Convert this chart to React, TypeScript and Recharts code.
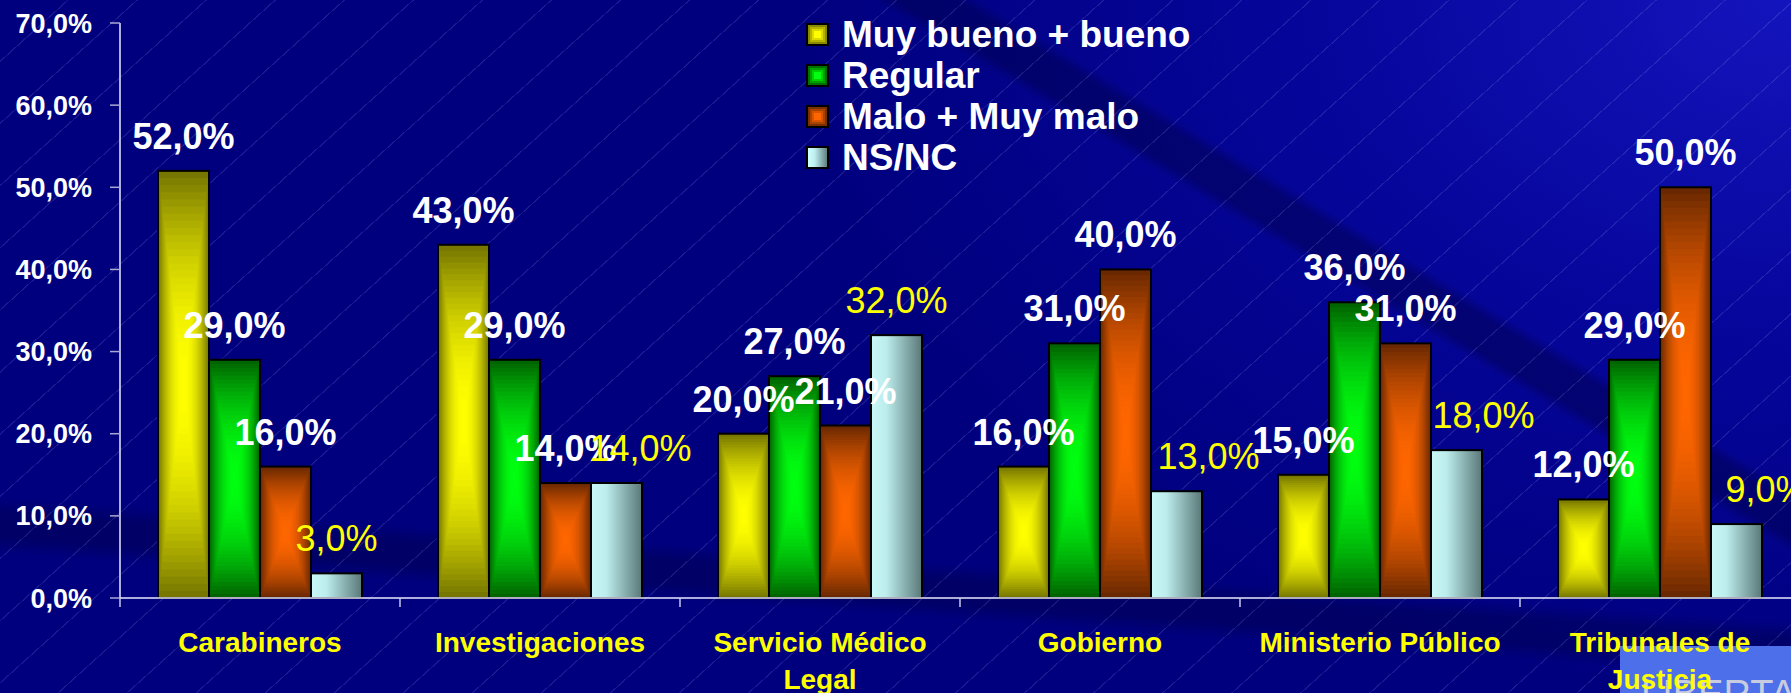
import React from 'react';
import { BarChart, Bar, XAxis, YAxis, Legend, LabelList } from 'recharts';

const categories = [
  'Carabineros',
  'Investigaciones',
  'Servicio Médico Legal',
  'Gobierno',
  'Ministerio Público',
  'Tribunales de Justicia',
];
const muyBuenoBueno = [52, 43, 20, 16, 15, 12];
const regular = [29, 29, 27, 31, 36, 29];
const maloMuyMalo = [16, 14, 21, 40, 31, 50];
const nsnc = [3, 14, 32, 13, 18, 9];
const yTicks = [0, 10, 20, 30, 40, 50, 60, 70];
const seriesNames = ['Muy bueno + bueno', 'Regular', 'Malo + Muy malo', 'NS/NC'];

const data = categories.map((name, i) => ({
  name,
  mb: muyBuenoBueno[i],
  reg: regular[i],
  mm: maloMuyMalo[i],
  ns: nsnc[i],
}));

// layout
const CHART_W = 1810;
const CHART_H = 693;
const MARGIN = { top: 23, right: 10, left: 0, bottom: 0 };
const Y_AXIS_W = 120;
const X_AXIS_H = 95;
const BAND = (CHART_W - MARGIN.right - Y_AXIS_W) / categories.length;
const FONT = "'Liberation Sans', Arial, Helvetica, sans-serif";
// the NS/NC labels were hand-placed a bit to the right in the original slide
const NSNC_LABEL_DX = [0, 24, 0, 32, 27, 30];

const BG = [
  'repeating-linear-gradient(138deg, rgba(0,0,0,0) 0px, rgba(0,0,0,0) 45px, rgba(190,190,255,0.13) 45px, rgba(190,190,255,0.13) 46.2px)',
  'linear-gradient(31deg, rgba(0,0,0,0) 68.8%, rgba(0,0,72,0.45) 69.6%, rgba(0,0,72,0.45) 71.6%, rgba(0,0,0,0) 72.4%)',
  'linear-gradient(184deg, rgba(0,0,0,0) 76%, rgba(0,0,50,0.3) 78%, rgba(0,0,50,0.3) 81%, rgba(0,0,0,0) 83%)',
  'radial-gradient(ellipse 55% 100% at 100% 0%, rgba(24,24,200,0.85) 0%, rgba(10,10,176,0.55) 50%, rgba(0,0,128,0) 100%)',
  '#00007f',
].join(',');

const toRgb = (h: string) => [1, 3, 5].map((i) => parseInt(h.slice(i, i + 2), 16));
const mix = (a: string, b: string, t: number) => {
  const A = toRgb(a);
  const B = toRgb(b);
  return `rgb(${A.map((v, i) => Math.round(v + (B[i] - v) * t)).join(',')})`;
};

// rectangle "from center" gradient, like the old PowerPoint fill
const centerGradientShape = (edge: string, center: string) => (props: any) => {
  const { x, y, width, height } = props;
  if (!height || height <= 0) return <g />;
  const steps = 30;
  const rects = [];
  for (let k = 0; k < steps; k++) {
    const s = k / steps;
    const t = 1 - (1 - s) * (1 - s);
    rects.push(
      <rect
        key={k}
        x={x + (s * width) / 2}
        y={y + (s * height) / 2}
        width={width * (1 - s)}
        height={height * (1 - s)}
        fill={mix(edge, center, t)}
      />
    );
  }
  return (
    <g>
      {rects}
      <rect x={x} y={y} width={width} height={height} fill="none" stroke="#000" strokeWidth={2} />
    </g>
  );
};

const yellowShape = centerGradientShape('#767600', '#ffff00');
const greenShape = centerGradientShape('#006400', '#00ff10');
const orangeShape = centerGradientShape('#6a2800', '#ff6600');

const cyanShape = (props: any) => {
  const { x, y, width, height, index } = props;
  if (!height || height <= 0) return <g />;
  const id = `nsnc-grad-${index}`;
  return (
    <g>
      <defs>
        <linearGradient id={id} x1="0" y1="0" x2="1" y2="0">
          <stop offset="0%" stopColor="#c8f8f8" />
          <stop offset="30%" stopColor="#bcecec" />
          <stop offset="100%" stopColor="#5a7878" />
        </linearGradient>
      </defs>
      <rect x={x} y={y} width={width} height={height} fill={`url(#${id})`} stroke="#000" strokeWidth={2} />
    </g>
  );
};

let measureCtx: CanvasRenderingContext2D | null = null;
const textWidth = (s: string) => {
  if (!measureCtx) measureCtx = document.createElement('canvas').getContext('2d');
  if (!measureCtx) return s.length * 15;
  measureCtx.font = `bold 28px ${FONT}`;
  return measureCtx.measureText(s).width;
};

const wrapLabel = (label: string, maxW: number) => {
  const lines: string[] = [];
  let cur = '';
  label.split(' ').forEach((w) => {
    const next = cur ? `${cur} ${w}` : w;
    if (cur && textWidth(next) > maxW) {
      lines.push(cur);
      cur = w;
    } else {
      cur = next;
    }
  });
  if (cur) lines.push(cur);
  return lines;
};

const CategoryTick = (props: any) => {
  const { x, y, payload, index } = props;
  const axisY = y - 10;
  const lines = wrapLabel(String(payload.value), 262);
  return (
    <g>
      <line x1={x - BAND / 2} y1={axisY} x2={x - BAND / 2} y2={axisY + 9} stroke="#c8c8e8" strokeWidth={1.5} />
      {index === categories.length - 1 && (
        <line x1={x + BAND / 2} y1={axisY} x2={x + BAND / 2} y2={axisY + 9} stroke="#c8c8e8" strokeWidth={1.5} />
      )}
      <text
        x={x}
        y={axisY + 54}
        textAnchor="middle"
        fill="#ffff00"
        style={{ fontSize: 28, fontWeight: 'bold', fontFamily: FONT }}
      >
        {lines.map((ln, i) => (
          <tspan key={i} x={x} dy={i === 0 ? 0 : 37}>
            {ln}
          </tspan>
        ))}
      </text>
    </g>
  );
};

const fmt = (v: number) => `${v.toFixed(1).replace('.', ',')}%`;

const whiteLabel = (props: any) => {
  const { x, y, width, value } = props;
  return (
    <text
      x={x + width / 2}
      y={y - 22}
      textAnchor="middle"
      fill="#ffffff"
      style={{ fontSize: 36, fontWeight: 'bold', fontFamily: FONT }}
    >
      {fmt(value)}
    </text>
  );
};

const yellowLabel = (props: any) => {
  const { x, y, width, value, index } = props;
  return (
    <text
      x={x + width / 2 + (NSNC_LABEL_DX[index] || 0)}
      y={y - 22}
      textAnchor="middle"
      fill="#ffff00"
      style={{ fontSize: 36, fontWeight: 'normal', fontFamily: FONT }}
    >
      {fmt(value)}
    </text>
  );
};

const swatches: React.CSSProperties[] = [
  { background: '#ffff00', boxShadow: 'inset 0 0 0 2px #8a8a00, inset 0 0 0 4px #b4b400, inset 0 0 0 6px #dada00' },
  { background: '#00ff10', boxShadow: 'inset 0 0 0 2px #007000, inset 0 0 0 4px #00a000, inset 0 0 0 6px #00d000' },
  { background: '#ff6600', boxShadow: 'inset 0 0 0 2px #7a3000, inset 0 0 0 4px #a84400, inset 0 0 0 6px #d85500' },
  { background: 'linear-gradient(to right, #d0ffff, #bfeeee 35%, #5f8080)' },
];

const LegendContent = () => (
  <div>
    {seriesNames.map((name, i) => (
      <div key={name} style={{ display: 'flex', alignItems: 'center', height: 41 }}>
        <span
          style={{
            display: 'inline-block',
            width: 23,
            height: 23,
            boxSizing: 'border-box',
            border: '2px solid #000',
            ...swatches[i],
          }}
        />
        <span
          style={{
            marginLeft: 13,
            color: '#ffffff',
            fontSize: 37,
            fontWeight: 'bold',
            fontFamily: FONT,
            whiteSpace: 'nowrap',
            lineHeight: '41px',
          }}
        >
          {name}
        </span>
      </div>
    ))}
  </div>
);

export default function App() {
  return (
    <div
      style={{
        position: 'fixed',
        left: 0,
        top: 0,
        width: 1791,
        height: 693,
        overflow: 'hidden',
        background: BG,
      }}
    >
      <div style={{ position: 'absolute', left: 1620, top: 646, width: 200, height: 60, background: '#4d6fe9' }}>
        <div
          style={{
            position: 'absolute',
            left: 21,
            top: 29,
            fontSize: 38,
            lineHeight: 1,
            color: '#c8cce0',
            fontFamily: FONT,
            whiteSpace: 'nowrap',
          }}
        >
          LIBERTAD
        </div>
      </div>

      {/* bars and axes */}
      <div style={{ position: 'absolute', left: 0, top: 0 }}>
        <BarChart width={CHART_W} height={CHART_H} data={data} margin={MARGIN} barCategoryGap={38} barGap={0}>
          <XAxis
            dataKey="name"
            interval={0}
            height={X_AXIS_H}
            tickSize={10}
            tickMargin={0}
            tickLine={false}
            axisLine={{ stroke: '#e8e8ff', strokeWidth: 1.5 }}
            tick={(p: any) => <CategoryTick {...p} />}
          />
          <YAxis
            width={Y_AXIS_W}
            domain={[0, 70]}
            ticks={yTicks}
            interval={0}
            tickSize={10}
            tickMargin={18}
            tickFormatter={fmt}
            tickLine={{ stroke: '#a8a8d0', strokeWidth: 1.5 }}
            axisLine={{ stroke: '#e8e8ff', strokeWidth: 1.5 }}
            tick={{ fill: '#ffffff', fontSize: 27, fontWeight: 'bold', fontFamily: FONT }}
          />
          <Bar dataKey="mb" name={seriesNames[0]} shape={yellowShape} isAnimationActive={false} />
          <Bar dataKey="reg" name={seriesNames[1]} shape={greenShape} isAnimationActive={false} />
          <Bar dataKey="mm" name={seriesNames[2]} shape={orangeShape} isAnimationActive={false} />
          <Bar dataKey="ns" name={seriesNames[3]} shape={cyanShape} isAnimationActive={false} />
        </BarChart>
      </div>

      {/* value labels and legend, drawn above every bar */}
      <div style={{ position: 'absolute', left: 0, top: 0 }}>
        <BarChart width={CHART_W} height={CHART_H} data={data} margin={MARGIN} barCategoryGap={38} barGap={0}>
          <XAxis dataKey="name" height={X_AXIS_H} tick={false} tickLine={false} axisLine={false} />
          <YAxis width={Y_AXIS_W} domain={[0, 70]} ticks={yTicks} tick={false} tickLine={false} axisLine={false} />
          <Legend
            layout="vertical"
            align="center"
            verticalAlign="middle"
            content={<LegendContent />}
            wrapperStyle={{ left: 806, top: 14, width: 'auto', right: 'auto', bottom: 'auto' }}
          />
          <Bar dataKey="mb" name={seriesNames[0]} fill="#ffff00" fillOpacity={0} isAnimationActive={false}>
            <LabelList dataKey="mb" content={whiteLabel} />
          </Bar>
          <Bar dataKey="reg" name={seriesNames[1]} fill="#00ff10" fillOpacity={0} isAnimationActive={false}>
            <LabelList dataKey="reg" content={whiteLabel} />
          </Bar>
          <Bar dataKey="mm" name={seriesNames[2]} fill="#ff6600" fillOpacity={0} isAnimationActive={false}>
            <LabelList dataKey="mm" content={whiteLabel} />
          </Bar>
          <Bar dataKey="ns" name={seriesNames[3]} fill="#c8f8f8" fillOpacity={0} isAnimationActive={false}>
            <LabelList dataKey="ns" content={yellowLabel} />
          </Bar>
        </BarChart>
      </div>
    </div>
  );
}
